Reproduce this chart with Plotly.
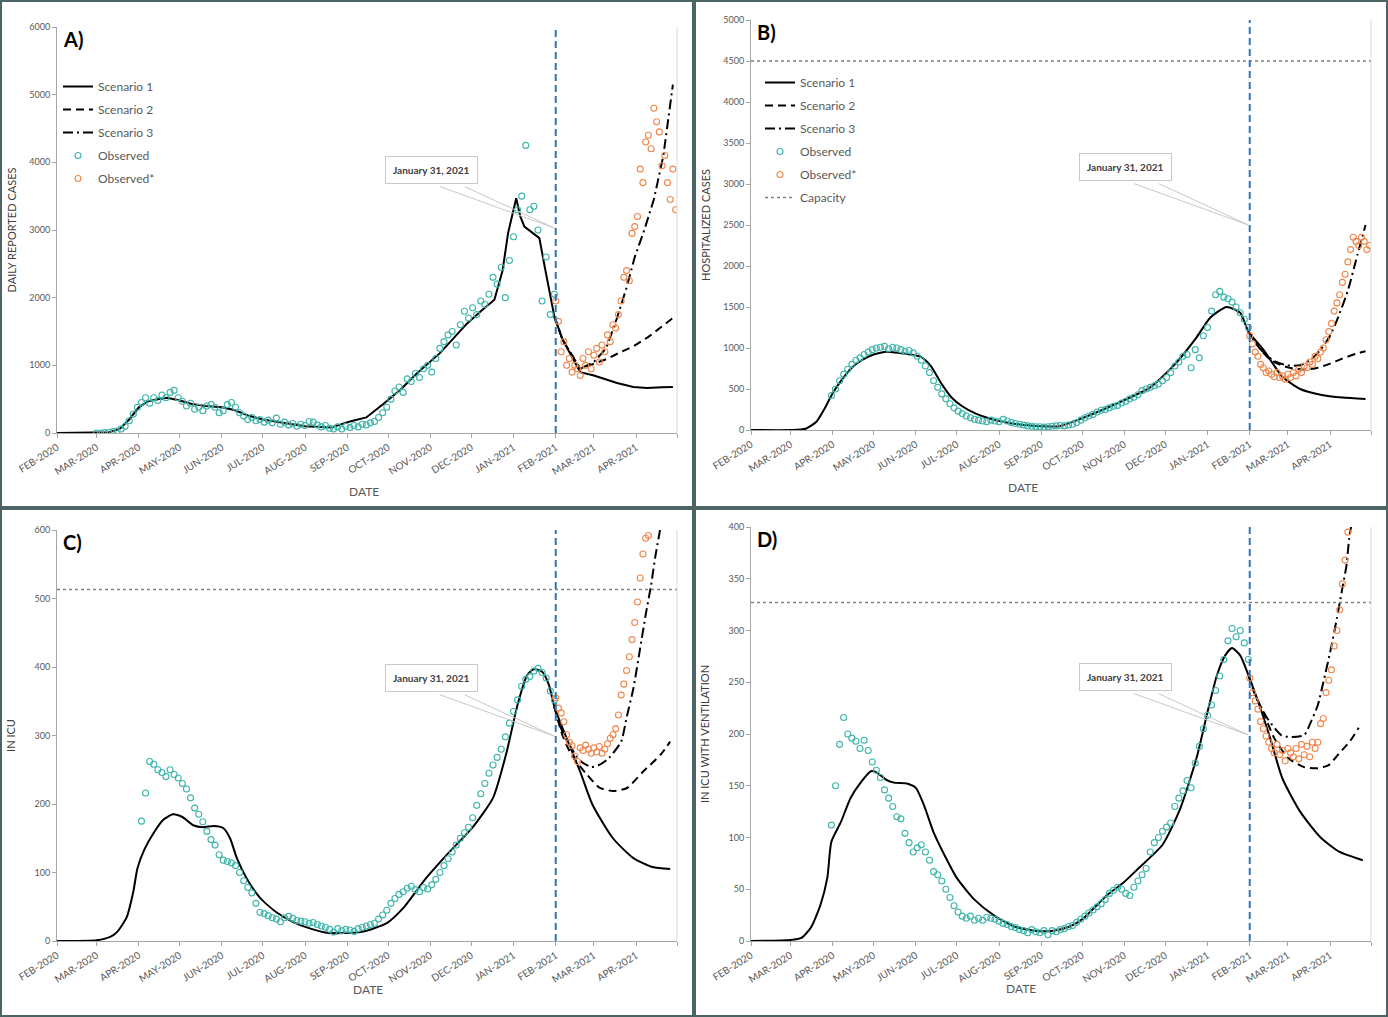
import pandas as pd
from plotly import graph_objs as go

W, H = 1388, 1017

MONTH_TICKS = ["2020-02-01", "2020-03-01", "2020-04-01", "2020-05-01", "2020-06-01", "2020-07-01",
               "2020-08-01", "2020-09-01", "2020-10-01", "2020-11-01", "2020-12-01", "2021-01-01",
               "2021-02-01", "2021-03-01", "2021-04-01", "2021-05-01"]
MONTH_LABELS = ["FEB-2020", "MAR-2020", "APR-2020", "MAY-2020", "JUN-2020", "JUL-2020", "AUG-2020",
                "SEP-2020", "OCT-2020", "NOV-2020", "DEC-2020", "JAN-2021", "FEB-2021", "MAR-2021",
                "APR-2021", ""]
CUTOFF_DATE = "2021-02-01"
CALLOUT_DATE = "2021-01-31"
CALLOUT_TEXT = "January 31, 2021"

# observed (teal): every 3 days from OBS_START; observed* (orange): every 2 days from OBS_STAR_START
OBS_START = "2020-03-01"
OBS_STAR_START = "2021-02-01"

# ---------------- A) daily reported cases ----------------
cases_s1_dates = ["2020-02-01", "2020-03-01", "2020-03-10", "2020-03-18", "2020-03-25", "2020-04-01",
                  "2020-04-08", "2020-04-15", "2020-04-22", "2020-05-01", "2020-05-10", "2020-05-20",
                  "2020-06-01", "2020-06-10", "2020-06-20", "2020-07-01", "2020-07-15", "2020-08-01",
                  "2020-08-20", "2020-09-03", "2020-09-15", "2020-09-27", "2020-10-10", "2020-10-22",
                  "2020-11-08", "2020-11-28", "2020-12-08", "2020-12-18", "2020-12-24", "2020-12-28",
                  "2021-01-03", "2021-01-06", "2021-01-09", "2021-01-20", "2021-01-24", "2021-01-31",
                  "2021-02-06", "2021-02-19", "2021-03-01", "2021-03-18", "2021-03-30", "2021-04-09",
                  "2021-04-20", "2021-04-28"]
cases_s1 = [0, 0, 10, 60, 200, 380, 470, 500, 520, 480, 430, 400, 380, 340, 260, 200, 150, 100,
            80, 170, 230, 420, 640, 880, 1180, 1620, 1800, 1970, 2400, 2950, 3470, 3200, 3050, 2880,
            2450, 1720, 1380, 900, 850, 740, 680, 665, 675, 680]
cases_s2_dates = ["2021-01-31", "2021-02-06", "2021-02-19", "2021-03-01", "2021-03-10", "2021-03-20",
                  "2021-03-30", "2021-04-10", "2021-04-20", "2021-04-28"]
cases_s2 = [1720, 1380, 950, 1020, 1090, 1190, 1280, 1420, 1570, 1700]
cases_s3_dates = ["2021-01-31", "2021-02-06", "2021-02-19", "2021-03-01", "2021-03-10", "2021-03-18",
                  "2021-03-25", "2021-03-31", "2021-04-07", "2021-04-14", "2021-04-21", "2021-04-28"]
cases_s3 = [1720, 1380, 950, 1050, 1250, 1700, 2150, 2600, 3000, 3450, 4100, 5150]
cases_obs = [0, 0, 5, 10, 20, 30, 60, 100, 180, 280,
             380, 450, 520, 440, 520, 480, 560, 520, 600, 630,
             520, 470, 400, 440, 350, 380, 330, 400, 420, 380,
             300, 330, 420, 450, 380, 300, 250, 200, 230, 180,
             200, 160, 190, 150, 220, 130, 160, 120, 140, 100,
             130, 110, 170, 160, 120, 90, 110, 70, 60, 90,
             60, 100, 80, 110, 90, 130, 120, 150, 170, 230,
             300, 380, 500, 620, 680, 600, 800, 760, 880, 820,
             950, 1000, 900, 1100, 1250, 1350, 1450, 1500, 1300, 1600,
             1800, 1700, 1850, 1750, 1950, 1900, 2050, 2300, 2200, 2450,
             2000, 2550, 2900, 3300, 3500, 4250, 3300, 3350, 3000, 1950,
             2600, 1750, 2050]
cases_obs_star = [1950, 1650, 1200, 1350, 1000, 1100, 900, 1000, 950, 850,
                  1100, 1000, 1200, 950, 1150, 1250, 1050, 1300, 1200, 1450,
                  1350, 1600, 1550, 1750, 1950, 2300, 2400, 2250, 2950, 3050,
                  3200, 3900, 3700, 4300, 4400, 4200, 4800, 4600, 4450, 3950,
                  4100, 3700, 3450, 3900, 3300]

# ---------------- B) hospitalized ----------------
hosp_s1_dates = ["2020-02-01", "2020-03-01", "2020-03-12", "2020-03-20", "2020-03-26", "2020-04-01",
                 "2020-04-08", "2020-04-15", "2020-04-22", "2020-05-01", "2020-05-10", "2020-05-20",
                 "2020-05-28", "2020-06-05", "2020-06-12", "2020-06-20", "2020-06-27", "2020-07-05",
                 "2020-07-15", "2020-08-01", "2020-08-15", "2020-09-01", "2020-09-15", "2020-10-02",
                 "2020-10-26", "2020-11-20", "2020-12-08", "2020-12-24", "2021-01-03", "2021-01-15",
                 "2021-01-25", "2021-01-31", "2021-02-11", "2021-02-25", "2021-03-10", "2021-03-25",
                 "2021-04-10", "2021-04-27"]
hosp_s1 = [0, 0, 15, 100, 260, 450, 620, 760, 850, 920, 955, 940, 920, 890, 780, 560, 400, 290,
           200, 110, 70, 45, 50, 150, 320, 520, 800, 1130, 1370, 1500, 1430, 1200, 980, 650, 500,
           430, 395, 378]
hosp_s2_dates = ["2021-01-31", "2021-02-08", "2021-02-16", "2021-02-24", "2021-03-05", "2021-03-14",
                 "2021-03-23", "2021-04-01", "2021-04-10", "2021-04-20", "2021-04-27"]
hosp_s2 = [1200, 1000, 860, 790, 750, 735, 760, 810, 870, 930, 960]
hosp_s3_dates = ["2021-01-31", "2021-02-08", "2021-02-18", "2021-02-28", "2021-03-10", "2021-03-18",
                 "2021-03-25", "2021-04-01", "2021-04-07", "2021-04-14", "2021-04-20", "2021-04-27"]
hosp_s3 = [1200, 1000, 850, 790, 790, 860, 980, 1150, 1380, 1700, 2070, 2500]
hosp_obs = [None, None, None, None, None, None, None, None, None, None,
            420, 500, 600, 680, 740, 800, 850, 880, 920, 950,
            980, 1000, 1010, 1020, 990, 1010, 1000, 980, 960, 970,
            940, 900, 850, 780, 700, 600, 520, 440, 380, 320,
            270, 230, 200, 170, 150, 130, 120, 110, 100, 120,
            110, 100, 130, 110, 90, 80, 70, 60, 50, 45,
            40, 40, 35, 40, 45, 50, 55, 50, 60, 70,
            90, 120, 150, 170, 190, 220, 240, 250, 270, 290,
            300, 330, 350, 380, 400, 430, 480, 500, 520, 540,
            560, 600, 640, 700, 780, 830, 900, 920, 760, 980,
            880, 1150, 1250, 1450, 1650, 1690, 1620, 1600, 1560, 1500,
            1430, 1350, 1250]
hosp_obs_star = [1150, 1050, 950, 900, 800, 760, 700, 720, 680, 650,
                 700, 640, 660, 620, 680, 640, 700, 660, 740, 700,
                 780, 760, 830, 800, 900, 870, 950, 1000, 1100, 1200,
                 1300, 1450, 1550, 1650, 1800, 1900, 2050, 2200, 2350, 2300,
                 2250, 2350, 2300, 2200, 2250]
hosp_capacity = 4500

# ---------------- C) in ICU ----------------
icu_s1_dates = ["2020-02-01", "2020-03-01", "2020-03-11", "2020-03-16", "2020-03-23", "2020-03-28",
                "2020-03-31", "2020-04-05", "2020-04-12", "2020-04-19", "2020-04-26", "2020-05-03",
                "2020-05-11", "2020-05-18", "2020-05-26", "2020-06-02", "2020-06-07", "2020-06-12",
                "2020-06-19", "2020-06-29", "2020-07-11", "2020-07-23", "2020-08-05", "2020-08-17",
                "2020-09-11", "2020-09-30", "2020-10-12", "2020-10-29", "2020-11-15", "2020-12-02",
                "2020-12-17", "2020-12-27", "2021-01-04", "2021-01-11", "2021-01-16", "2021-01-22",
                "2021-01-27", "2021-01-31", "2021-02-09", "2021-02-19", "2021-02-28", "2021-03-15",
                "2021-03-30", "2021-04-13", "2021-04-26"]
icu_s1 = [0, 1, 6, 13, 34, 72, 106, 133, 158, 177, 185, 181, 169, 166, 168, 165, 150, 121, 92, 63,
          42, 28, 18, 12, 13, 26, 48, 92, 130, 166, 209, 276, 345, 388, 397, 393, 374, 342, 296,
          247, 199, 150, 121, 108, 105]
icu_s2_dates = ["2021-01-31", "2021-02-06", "2021-02-13", "2021-02-23", "2021-03-05", "2021-03-15",
                "2021-03-25", "2021-04-06", "2021-04-19", "2021-04-26"]
icu_s2 = [342, 300, 270, 245, 224, 219, 223, 247, 272, 291]
icu_s3_dates = ["2021-01-31", "2021-02-05", "2021-02-11", "2021-02-19", "2021-02-27", "2021-03-05",
                "2021-03-12", "2021-03-21", "2021-03-25", "2021-03-30", "2021-04-04", "2021-04-08",
                "2021-04-12", "2021-04-15", "2021-04-19"]
icu_s3 = [342, 310, 286, 263, 254, 257, 267, 291, 326, 369, 428, 476, 520, 560, 605]
icu_obs = [None, None, None, None, None, None, None, None, None, None,
           None, 175, 216, 262, 258, 250, 246, 240, 250, 243,
           238, 230, 222, 209, 194, 185, 174, 160, 148, 140,
           126, 118, 116, 114, 110, 100, 88, 78, 70, 55,
           42, 40, 37, 34, 32, 28, 34, 36, 33, 30,
           29, 28, 26, 27, 24, 22, 20, 17, 13, 18,
           15, 17, 16, 14, 18, 20, 22, 24, 26, 32,
           38, 45, 55, 62, 68, 72, 77, 80, 75, 72,
           78, 76, 82, 90, 100, 110, 120, 130, 140, 150,
           158, 166, 180, 198, 215, 230, 245, 257, 268, 280,
           298, 318, 335, 352, 372, 382, 386, 394, 398, 392,
           384, 365, 352]
icu_obs_star = [355, 340, 333, 320, 301, 290, 285, 270, 262, 282,
                278, 286, 280, 274, 282, 276, 284, 274, 280, 288,
                296, 301, 310, 330, 359, 375, 395, 415, 440, 465,
                495, 530, 565, 588, 592]
icu_capacity = 513

# ---------------- D) in ICU with ventilation ----------------
vent_s1_dates = ["2020-02-01", "2020-03-01", "2020-03-09", "2020-03-16", "2020-03-23", "2020-03-28",
                 "2020-03-31", "2020-04-07", "2020-04-14", "2020-04-22", "2020-04-29", "2020-05-03",
                 "2020-05-10", "2020-05-16", "2020-05-26", "2020-06-01", "2020-06-07", "2020-06-14",
                 "2020-06-22", "2020-07-01", "2020-07-14", "2020-07-28", "2020-08-12", "2020-08-27",
                 "2020-09-10", "2020-09-22", "2020-10-02", "2020-10-19", "2020-10-31", "2020-11-12",
                 "2020-11-29", "2020-12-12", "2020-12-24", "2021-01-01", "2021-01-08", "2021-01-14",
                 "2021-01-19", "2021-01-25", "2021-01-31", "2021-02-08", "2021-02-16", "2021-02-25",
                 "2021-03-10", "2021-03-25", "2021-04-08", "2021-04-25"]
vent_s1 = [0, 1, 3, 13, 35, 61, 96, 115, 138, 154, 164, 163, 156, 153, 152, 148, 131, 105, 83, 61,
           40, 25, 14, 10, 10, 14, 22, 44, 56, 71, 93, 128, 177, 221, 257, 276, 283, 276, 257, 228,
           196, 157, 125, 100, 86, 78]
vent_s2_dates = ["2021-01-31", "2021-02-04", "2021-02-11", "2021-02-19", "2021-03-01", "2021-03-13",
                 "2021-03-23", "2021-03-31", "2021-04-08", "2021-04-15", "2021-04-22"]
vent_s2 = [257, 241, 221, 196, 177, 168, 167, 170, 182, 192, 206]
vent_s3_dates = ["2021-01-31", "2021-02-07", "2021-02-14", "2021-02-24", "2021-03-04", "2021-03-13",
                 "2021-03-18", "2021-03-23", "2021-03-27", "2021-04-01", "2021-04-06", "2021-04-10",
                 "2021-04-13", "2021-04-15", "2021-04-17"]
vent_s3 = [257, 232, 215, 199, 197, 199, 212, 228, 250, 279, 312, 341, 363, 389, 405]
vent_obs = [None, None, None, None, None, None, None, None, None, None,
            112, 150, 190, 216, 200, 196, 193, 186, 194, 184,
            173, 165, 158, 146, 138, 130, 120, 118, 104, 95,
            86, 90, 93, 86, 78, 67, 64, 58, 50, 42,
            34, 28, 24, 22, 24, 20, 22, 20, 23, 22,
            21, 19, 17, 16, 14, 13, 11, 10, 8, 11,
            9, 8, 10, 6, 10, 9, 11, 12, 14, 15,
            18, 21, 24, 27, 30, 33, 36, 40, 46, 49,
            52, 50, 46, 44, 52, 58, 64, 70, 86, 95,
            100, 106, 110, 114, 130, 138, 145, 155, 148, 172,
            188, 205, 218, 228, 242, 256, 272, 290, 302, 294,
            300, 288, 272]
vent_obs_star = [254, 240, 232, 224, 212, 205, 198, 192, 186, 182,
                 190, 180, 184, 174, 186, 182, 178, 186, 176, 190,
                 180, 188, 178, 192, 186, 192, 210, 215, 240, 252,
                 262, 285, 300, 320, 345, 368, 395]
vent_capacity = 327

TEAL = "#3db5ab"
ORANGE = "#f0874d"
BLUE = "#2e75b6"
AXIS_GRAY = "#a6a6a6"
TEXT_GRAY = "#595959"
FONT = "Lato"


def dom_x(left, right):
    return [left / W, right / W]


def dom_y(top, bottom):
    return [1 - bottom / H, 1 - top / H]


panels = [
    dict(letter="A)", n="", xd=dom_x(57, 677), yd=dom_y(27, 433), ymax=6000, dtick=1000,
         ytitle="DAILY REPORTED CASES", standoff=10, legend="legend", smooth=False,
         s1=(cases_s1_dates, cases_s1), s2=(cases_s2_dates, cases_s2), s3=(cases_s3_dates, cases_s3),
         obs=cases_obs, obs_star=cases_obs_star, cap=None, tip=3030, date_x=347, date_y=492),
    dict(letter="B)", n="2", xd=dom_x(751, 1371), yd=dom_y(20, 430), ymax=5000, dtick=500,
         ytitle="HOSPITALIZED CASES", standoff=10, legend="legend2", smooth=True,
         s1=(hosp_s1_dates, hosp_s1), s2=(hosp_s2_dates, hosp_s2), s3=(hosp_s3_dates, hosp_s3),
         obs=hosp_obs, obs_star=hosp_obs_star, cap=hosp_capacity, tip=2500, date_x=1040, date_y=487),
    dict(letter="C)", n="3", xd=dom_x(57, 677), yd=dom_y(530, 941), ymax=600, dtick=100,
         ytitle="IN ICU", standoff=16, legend=None, smooth=True,
         s1=(icu_s1_dates, icu_s1), s2=(icu_s2_dates, icu_s2), s3=(icu_s3_dates, icu_s3),
         obs=icu_obs, obs_star=icu_obs_star, cap=icu_capacity, tip=299, date_x=351, date_y=999),
    dict(letter="D)", n="4", xd=dom_x(751, 1371), yd=dom_y(527, 941), ymax=400, dtick=50,
         ytitle="IN ICU WITH VENTILATION", standoff=16, legend=None, smooth=True,
         s1=(vent_s1_dates, vent_s1), s2=(vent_s2_dates, vent_s2), s3=(vent_s3_dates, vent_s3),
         obs=vent_obs, obs_star=vent_obs_star, cap=vent_capacity, tip=199, date_x=1038, date_y=998),
]

fig = go.Figure()
annotations = []
shapes = []

for p in panels:
    xa, ya = "x" + p["n"], "y" + p["n"]
    show = p["legend"] is not None
    common = dict(xaxis=xa, yaxis=ya, showlegend=show)
    if show:
        common["legend"] = p["legend"]
    shape = "spline" if p["smooth"] else "linear"

    line_styles = [("Scenario 1", p["s1"], "solid"),
                   ("Scenario 2", p["s2"], "8px,5px"),
                   ("Scenario 3", p["s3"], "10px,4px,2px,4px")]
    for name, (d, v), dash in line_styles:
        fig.add_trace(go.Scatter(
            x=pd.to_datetime(d), y=v, name=name, mode="lines",
            line=dict(color="black", width=2, dash=dash, shape=shape, smoothing=0.6),
            legendgroup=p["letter"] + name, **common))

    obs_x = pd.date_range(OBS_START, periods=len(p["obs"]), freq="3D")
    fig.add_trace(go.Scatter(
        x=obs_x, y=p["obs"], name="Observed", mode="markers",
        marker=dict(symbol="circle-open", size=6, color=TEAL, line=dict(width=1.1)),
        legendgroup=p["letter"] + "obs", **common))
    star_x = pd.date_range(OBS_STAR_START, periods=len(p["obs_star"]), freq="2D")
    fig.add_trace(go.Scatter(
        x=star_x, y=p["obs_star"], name="Observed*", mode="markers",
        marker=dict(symbol="circle-open", size=6, color=ORANGE, line=dict(width=1.1)),
        legendgroup=p["letter"] + "star", **common))

    if p["cap"] is not None:
        fig.add_trace(go.Scatter(
            x=pd.to_datetime([MONTH_TICKS[0], MONTH_TICKS[-1]]), y=[p["cap"], p["cap"]],
            name="Capacity", mode="lines", line=dict(color="#7f7f7f", width=1.5, dash="dot"),
            legendgroup=p["letter"] + "cap", **common))

    axis_key = p["n"]
    fig.update_layout(**{
        "xaxis" + axis_key: dict(
            domain=p["xd"], anchor=ya, type="date", range=[MONTH_TICKS[0], MONTH_TICKS[-1]],
            tickvals=MONTH_TICKS, ticktext=MONTH_LABELS, tickangle=-32, automargin=False,
            ticks="outside", ticklen=4, tickcolor=AXIS_GRAY, showline=True, linecolor=AXIS_GRAY,
            showgrid=False, zeroline=False, tickfont=dict(size=10, color=TEXT_GRAY, family=FONT)),
        "yaxis" + axis_key: dict(
            domain=p["yd"], anchor=xa, range=[0, p["ymax"]], dtick=p["dtick"], automargin=False,
            ticks="outside", ticklen=4, tickcolor=AXIS_GRAY, showline=True, linecolor=AXIS_GRAY,
            showgrid=False, zeroline=False, tickfont=dict(size=9, color=TEXT_GRAY, family=FONT),
            title=dict(text=p["ytitle"], standoff=p["standoff"],
                       font=dict(size=11, color="#404040", family=FONT))),
    })

    # panel letter
    annotations.append(dict(text="<b>%s</b>" % p["letter"], xref=xa + " domain", yref=ya + " domain",
                            x=0.006, y=1.005, xanchor="left", yanchor="top", showarrow=False,
                            font=dict(size=20, color="black", family=FONT)))
    # DATE
    annotations.append(dict(text="DATE", xref="paper", yref="paper", x=p["date_x"] / W,
                            y=1 - p["date_y"] / H, showarrow=False,
                            font=dict(size=12, color=TEXT_GRAY, family=FONT)))
    # callout box with wedge pointer
    annotations.append(dict(text="<b>%s</b>" % CALLOUT_TEXT, x=CALLOUT_DATE, y=p["tip"], xref=xa, yref=ya,
                            showarrow=True, arrowcolor="rgba(0,0,0,0)", ax=-123, ay=-58,
                            bgcolor="white", bordercolor="#c8c8c8", borderwidth=1, borderpad=7,
                            font=dict(size=10, color="#404040", family=FONT)))
    for tail_x in (-116, -91):
        annotations.append(dict(text="", x=CALLOUT_DATE, y=p["tip"], xref=xa, yref=ya, showarrow=True,
                                arrowhead=0, arrowwidth=1, arrowcolor="#c8c8c8", ax=tail_x, ay=-42))

    # cutoff dashed line and right edge of plot area
    shapes.append(dict(type="line", xref=xa, yref=ya + " domain", x0=CUTOFF_DATE, x1=CUTOFF_DATE,
                       y0=0, y1=1, line=dict(color=BLUE, width=2, dash="7px,4px")))
    shapes.append(dict(type="line", xref=xa + " domain", yref=ya + " domain", x0=1, x1=1, y0=0, y1=1,
                       line=dict(color="#d9d9d9", width=1)))

# panel frames
frame = dict(type="rect", xref="paper", yref="paper", line=dict(color="#4d6464", width=2))
shapes.append(dict(frame, x0=1 / W, x1=693 / W, y0=1 - 507 / H, y1=1 - 1 / H))
shapes.append(dict(frame, x0=695 / W, x1=1387 / W, y0=1 - 507 / H, y1=1 - 1 / H))
shapes.append(dict(frame, x0=1 / W, x1=693 / W, y0=1 - 1016 / H, y1=1 - 509 / H))
shapes.append(dict(frame, x0=695 / W, x1=1387 / W, y0=1 - 1016 / H, y1=1 - 509 / H))

legend_style = dict(xanchor="left", yanchor="top", bgcolor="rgba(0,0,0,0)", traceorder="grouped",
                    tracegroupgap=4, font=dict(size=12, color=TEXT_GRAY, family=FONT))
fig.update_layout(
    width=W, height=H, margin=dict(l=0, r=0, t=0, b=0, autoexpand=False),
    paper_bgcolor="white", plot_bgcolor="white",
    font=dict(family=FONT),
    legend=dict(legend_style, x=58 / W, y=1 - 72 / H),
    legend2=dict(legend_style, x=760 / W, y=1 - 68 / H),
    annotations=annotations, shapes=shapes,
)

# the page body has a default 8px margin; drop it so the figure fills the window exactly
fig.write_html("out.html", config={"displayModeBar": False},
               post_script="document.body.style.margin = '0';")
